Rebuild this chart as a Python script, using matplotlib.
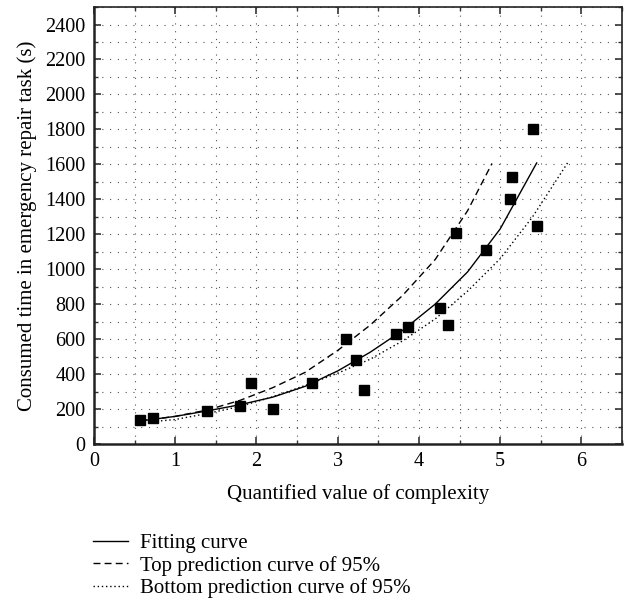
import matplotlib
matplotlib.use("Agg")
from matplotlib import pyplot as plt
from matplotlib.ticker import MultipleLocator
import numpy as np

# measured points
complexity = np.array([0.57, 0.73, 1.39, 1.80, 1.93, 2.21, 2.69, 3.10, 3.23, 3.33,
                       3.72, 3.87, 4.26, 4.36, 4.46, 4.82, 5.12, 5.14, 5.41, 5.45])
time_s = np.array([140, 150, 190, 220, 350, 200, 350, 600, 480, 310,
                   630, 670, 780, 680, 1210, 1110, 1400, 1530, 1800, 1250])

# curves
fit_x = [0.57, 1.0, 1.4, 1.8, 2.2, 2.6, 3.0, 3.4, 3.8, 4.2, 4.6, 5.0, 5.45]
fit_y = [132, 158, 190, 225, 268, 330, 418, 525, 650, 800, 985, 1230, 1608]

top_x = [0.57, 1.0, 1.4, 1.8, 2.2, 2.6, 3.0, 3.4, 3.8, 4.2, 4.6, 4.9]
top_y = [132, 158, 195, 250, 322, 410, 535, 680, 850, 1055, 1335, 1605]

bot_x = [0.57, 1.0, 1.4, 1.8, 2.2, 2.6, 3.0, 3.4, 3.8, 4.2, 4.6, 5.0, 5.4, 5.83]
bot_y = [122, 140, 175, 215, 270, 335, 405, 485, 590, 715, 875, 1060, 1300, 1608]

plt.rcParams['font.family'] = ['Liberation Serif', 'DejaVu Serif']
plt.rcParams['font.size'] = 15

fig = plt.figure(figsize=(6.26, 6.06), dpi=100)
ax = fig.add_axes([0.150, 0.2673, 0.8436, 0.7211])

ax.plot(fit_x, fit_y, '-', color='black', lw=1.0, label='Fitting curve')
ax.plot(top_x, top_y, color='black', lw=1.0, linestyle=(0, (5, 3)),
        label='Top prediction curve of 95%')
ax.plot(bot_x, bot_y, color='black', lw=1.0, linestyle=(0, (1, 2)),
        label='Bottom prediction curve of 95%')
ax.plot(complexity, time_s, 's', color='black', ms=6.5, zorder=5)

ax.set_xlim(0, 6.5)
ax.set_ylim(0, 2500)
ax.xaxis.set_major_locator(MultipleLocator(1))
ax.xaxis.set_minor_locator(MultipleLocator(0.5))
ax.yaxis.set_major_locator(MultipleLocator(200))
ax.yaxis.set_minor_locator(MultipleLocator(100))
ax.set_yticks(range(0, 2401, 200))

ax.grid(which='both', linestyle=(0, (1, 6)), color='#555555', lw=0.8)
ax.tick_params(which='both', direction='in', top=True, right=True, color='#333333')
ax.tick_params(which='major', length=5, width=1.2, pad=6, labelsize=14.5)
ax.tick_params(which='minor', length=3, width=1.0)
for side in ['left', 'bottom']:
    ax.spines[side].set_linewidth(1.8)
for side in ['top', 'right']:
    ax.spines[side].set_linewidth(1.2)
for s in ax.spines.values():
    s.set_color('#222222')

ax.set_xlabel('Quantified value of complexity', labelpad=9)
ax.set_ylabel('Consumed time in emergency repair task (s)', labelpad=6)

fig.legend(loc='upper left', bbox_to_anchor=(0.149, 0.1193), frameon=False,
           borderpad=0, borderaxespad=0, handlelength=1.68, handletextpad=0.58,
           labelspacing=0.12)

fig.savefig('out.png', dpi=100)
